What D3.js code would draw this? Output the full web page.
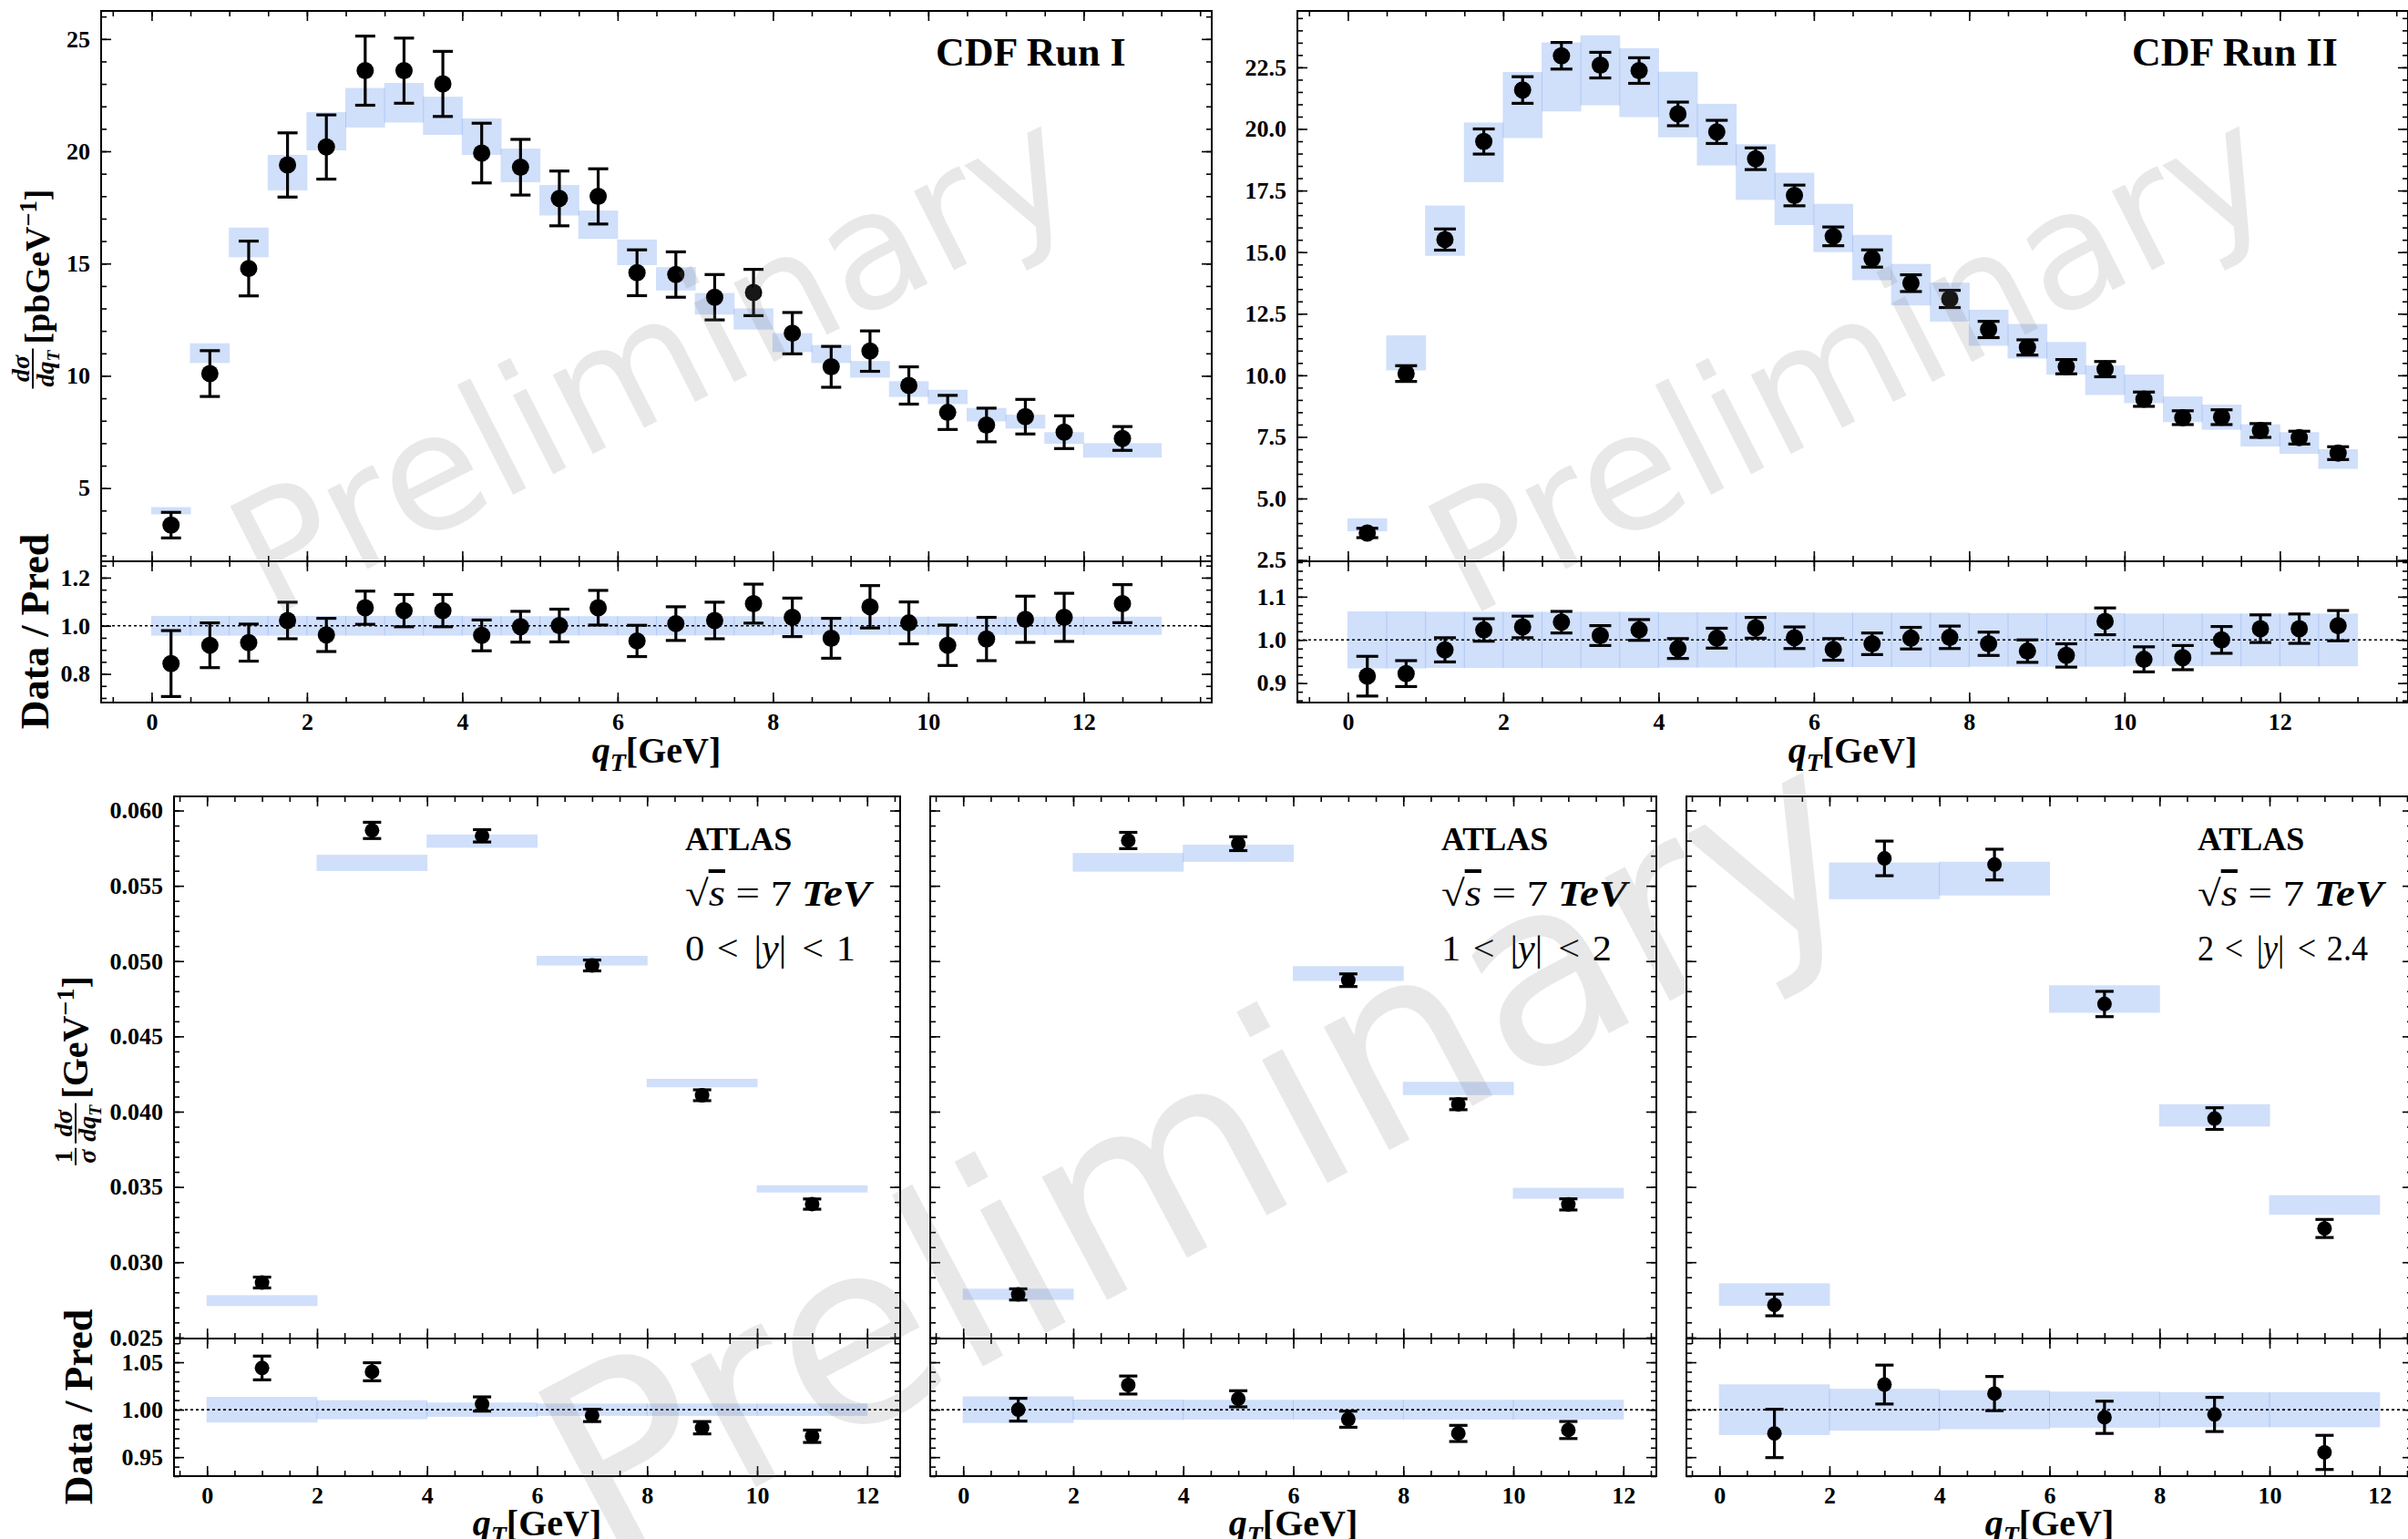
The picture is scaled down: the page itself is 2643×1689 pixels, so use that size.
<!DOCTYPE html>
<html>
<head>
<meta charset="utf-8">
<script src="https://cdn.jsdelivr.net/npm/d3@7"></script>
<style>
  body { margin: 0; background: #fff; }
  svg { display: block; }
</style>
</head>
<body>
<div id="wrapper"></div>
<script>
// ---------- data ----------
// CDF Run I
const cdf1Edges = [0, 0.5, 1, 1.5, 2, 2.5, 3, 3.5, 4, 4.5, 5, 5.5, 6, 6.5, 7, 7.5, 8, 8.5, 9, 9.5, 10, 10.5, 11, 11.5, 12, 13];
const cdf1Data = [3.35, 10.10, 14.78, 19.39, 20.19, 23.59, 23.59, 23.00, 19.92, 19.29, 17.90, 17.99, 14.59, 14.51, 13.50, 13.71, 11.90, 10.40, 11.10, 9.57, 8.37, 7.81, 8.18, 7.49, 7.21];
const cdf1Err = [0.57, 1.02, 1.22, 1.43, 1.43, 1.54, 1.45, 1.45, 1.33, 1.24, 1.22, 1.23, 1.02, 1.01, 1.01, 1.03, 0.92, 0.91, 0.90, 0.83, 0.76, 0.75, 0.77, 0.73, 0.53];
const cdf1Pred = [3.99, 11.01, 15.94, 19.05, 20.89, 21.94, 22.16, 21.58, 20.65, 19.37, 17.82, 16.73, 15.50, 14.32, 13.21, 12.53, 11.48, 10.97, 10.29, 9.41, 9.06, 8.27, 7.96, 7.23, 6.68];
const cdf1PredErr = [0.16, 0.44, 0.66, 0.79, 0.85, 0.88, 0.88, 0.85, 0.81, 0.75, 0.68, 0.63, 0.57, 0.52, 0.48, 0.47, 0.42, 0.40, 0.37, 0.35, 0.32, 0.30, 0.31, 0.26, 0.32];
const cdf1Ratio = [0.843, 0.919, 0.930, 1.022, 0.962, 1.075, 1.063, 1.063, 0.960, 0.996, 1.001, 1.075, 0.937, 1.009, 1.022, 1.092, 1.035, 0.948, 1.079, 1.012, 0.919, 0.945, 1.027, 1.035, 1.092];
const cdf1RatioErr = [0.137, 0.093, 0.077, 0.076, 0.069, 0.069, 0.067, 0.067, 0.064, 0.064, 0.068, 0.072, 0.065, 0.070, 0.076, 0.081, 0.080, 0.083, 0.088, 0.087, 0.084, 0.090, 0.096, 0.100, 0.079];
const cdf1RatioBand = [0.041, 0.041, 0.041, 0.041, 0.041, 0.041, 0.041, 0.041, 0.040, 0.040, 0.040, 0.040, 0.040, 0.040, 0.040, 0.040, 0.038, 0.038, 0.038, 0.038, 0.038, 0.038, 0.038, 0.038, 0.038];

// CDF Run II
const cdf2Edges = [0, 0.5, 1, 1.5, 2, 2.5, 3, 3.5, 4, 4.5, 5, 5.5, 6, 6.5, 7, 7.5, 8, 8.5, 9, 9.5, 10, 10.5, 11, 11.5, 12, 12.5, 13];
const cdf2Data = [3.60, 10.07, 15.51, 19.49, 21.58, 22.97, 22.59, 22.37, 20.61, 19.88, 18.79, 17.30, 15.64, 14.74, 13.74, 13.10, 11.86, 11.13, 10.35, 10.25, 9.03, 8.28, 8.30, 7.76, 7.47, 6.84];
const cdf2Err = [0.19, 0.32, 0.43, 0.51, 0.54, 0.54, 0.52, 0.52, 0.48, 0.47, 0.44, 0.42, 0.38, 0.35, 0.34, 0.35, 0.33, 0.31, 0.29, 0.31, 0.29, 0.28, 0.30, 0.28, 0.26, 0.26];
const cdf2Pred = [3.93, 10.91, 15.87, 19.05, 20.97, 22.11, 22.38, 21.88, 20.99, 19.77, 18.25, 17.16, 15.98, 14.78, 13.68, 12.97, 11.93, 11.38, 10.69, 9.80, 9.45, 8.62, 8.30, 7.56, 7.25, 6.60];
const cdf2PredErr = [0.26, 0.71, 1.02, 1.21, 1.34, 1.40, 1.42, 1.40, 1.33, 1.25, 1.13, 1.06, 0.98, 0.92, 0.84, 0.79, 0.73, 0.70, 0.66, 0.60, 0.58, 0.52, 0.51, 0.45, 0.44, 0.40];
const cdf2Ratio = [0.916, 0.922, 0.977, 1.023, 1.030, 1.041, 1.010, 1.023, 0.980, 1.004, 1.028, 1.005, 0.978, 0.991, 1.004, 1.006, 0.991, 0.974, 0.964, 1.043, 0.955, 0.959, 1.000, 1.026, 1.026, 1.033];
const cdf2RatioErr = [0.046, 0.030, 0.028, 0.026, 0.025, 0.025, 0.023, 0.024, 0.023, 0.023, 0.024, 0.025, 0.025, 0.025, 0.025, 0.026, 0.027, 0.026, 0.027, 0.031, 0.029, 0.028, 0.031, 0.032, 0.034, 0.035];
const cdf2RatioBand = [0.066, 0.066, 0.065, 0.065, 0.065, 0.065, 0.065, 0.065, 0.064, 0.064, 0.064, 0.064, 0.063, 0.063, 0.063, 0.063, 0.062, 0.062, 0.062, 0.062, 0.061, 0.061, 0.061, 0.061, 0.061, 0.061];

// ATLAS 7 TeV, three rapidity slices
const atlasEdges = [0, 2, 4, 6, 8, 10, 12];
const atlasRapidity = [["0", "1"], ["1", "2"], ["2", "2.4"]];
const atlas1Data = [0.02865, 0.05868, 0.05832, 0.04971, 0.04109, 0.03386];
const atlas1Err = [0.00036, 0.00054, 0.00041, 0.00036, 0.00036, 0.00034];
const atlas1Pred = [0.02745, 0.05652, 0.05797, 0.05003, 0.04190, 0.03487];
const atlas1PredErr = [0.00036, 0.00054, 0.00044, 0.00032, 0.00028, 0.00024];
const atlas1Ratio = [1.044, 1.040, 1.006, 0.994, 0.981, 0.972];
const atlas1RatioErr = [0.0125, 0.0095, 0.0075, 0.0065, 0.0065, 0.0065];
const atlas1RatioBand = [0.0135, 0.0100, 0.0075, 0.0065, 0.0065, 0.0065];

const atlas2Data = [0.02786, 0.05801, 0.05780, 0.04873, 0.04049, 0.03384];
const atlas2Err = [0.00037, 0.00054, 0.00046, 0.00042, 0.00036, 0.00037];
const atlas2Pred = [0.02787, 0.05656, 0.05716, 0.04917, 0.04154, 0.03458];
const atlas2PredErr = [0.00037, 0.00062, 0.00057, 0.00049, 0.00044, 0.00036];
const atlas2Ratio = [1.000, 1.026, 1.0115, 0.990, 0.975, 0.9786];
const atlas2RatioErr = [0.012, 0.0095, 0.0085, 0.0085, 0.0085, 0.009];
const atlas2RatioBand = [0.014, 0.0107, 0.0104, 0.0104, 0.0104, 0.0104];

const atlas3Data = [0.02716, 0.05682, 0.05641, 0.04715, 0.03954, 0.03224];
const atlas3Err = [0.00072, 0.00115, 0.00102, 0.00084, 0.00072, 0.00060];
const atlas3Pred = [0.02785, 0.05533, 0.05548, 0.04748, 0.03975, 0.03380];
const atlas3PredErr = [0.00075, 0.00122, 0.00112, 0.00091, 0.00074, 0.00065];
const atlas3Ratio = [0.975, 1.0265, 1.017, 0.992, 0.995, 0.955];
const atlas3RatioErr = [0.0255, 0.0205, 0.018, 0.017, 0.018, 0.018];
const atlas3RatioBand = [0.0267, 0.022, 0.0205, 0.019, 0.0185, 0.0185];

// tick labels
const cdfQtTicks = [0, 2, 4, 6, 8, 10, 12];
const atlasQtTicks = [0, 2, 4, 6, 8, 10, 12];
const cdf1MainTicks = [5, 10, 15, 20, 25];
const cdf1RatioTicks = [0.8, 1.0, 1.2];
const cdf2MainTicks = [2.5, 5.0, 7.5, 10.0, 12.5, 15.0, 17.5, 20.0, 22.5];
const cdf2RatioTicks = [0.9, 1.0, 1.1];
const atlasMainTicks = [0.025, 0.030, 0.035, 0.040, 0.045, 0.050, 0.055, 0.060];
const atlasRatioTicks = [0.95, 1.00, 1.05];

// ---------- layout ----------
const W = 2643, H = 1689;
const SERIF = "'Liberation Serif', 'DejaVu Serif', serif";
const BAND = "cornflowerblue";
const MAJOR = 11, MINOR = 6;

const svg = d3.select("#wrapper").append("svg")
    .attr("width", W)
    .attr("height", H)
    .style("background", "#fff");

function panel(box, xDomain, yDomain) {
    const g = svg.append("g").attr("transform", `translate(${box.left}, ${box.top})`);
    const w = box.right - box.left;
    const h = box.bottom - box.top;
    const x = d3.scaleLinear().domain(xDomain).range([0, w]);
    const y = d3.scaleLinear().domain(yDomain).range([h, 0]);
    return { g, x, y, w, h };
}

function inside(vals, sc) {
    const [a, b] = sc.domain();
    return vals.filter(v => v >= Math.min(a, b) - 1e-9 && v <= Math.max(a, b) + 1e-9);
}

function frame(p, xMajor, xMinor, yMajor, yMinor, xFmt, yFmt) {
    const none = () => "";
    const side = (axis, tr) => p.g.append("g").attr("transform", tr).call(axis)
        .call(a => a.select(".domain").remove())
        .call(a => a.selectAll(".tick line").attr("stroke", "#000").attr("stroke-width", 1.6))
        .call(a => a.selectAll(".tick text").attr("fill", "#000").attr("font-family", SERIF)
            .attr("font-weight", "bold").attr("font-size", 26));
    const xMin = inside(xMinor, p.x), yMin = inside(yMinor, p.y);
    side(d3.axisBottom(p.x).tickValues(xMajor).tickSize(-MAJOR).tickPadding(12).tickFormat(xFmt || none), `translate(0, ${p.h})`);
    side(d3.axisBottom(p.x).tickValues(xMin).tickSize(-MINOR).tickFormat(none), `translate(0, ${p.h})`);
    side(d3.axisTop(p.x).tickValues(xMajor).tickSize(-MAJOR).tickFormat(none), "translate(0, 0)");
    side(d3.axisTop(p.x).tickValues(xMin).tickSize(-MINOR).tickFormat(none), "translate(0, 0)");
    side(d3.axisLeft(p.y).tickValues(yMajor).tickSize(-MAJOR).tickPadding(12).tickFormat(yFmt || none), "translate(0, 0)");
    side(d3.axisLeft(p.y).tickValues(yMin).tickSize(-MINOR).tickFormat(none), "translate(0, 0)");
    side(d3.axisRight(p.y).tickValues(yMajor).tickSize(-MAJOR).tickFormat(none), `translate(${p.w}, 0)`);
    side(d3.axisRight(p.y).tickValues(yMin).tickSize(-MINOR).tickFormat(none), `translate(${p.w}, 0)`);
    p.g.append("rect")
        .attr("width", p.w).attr("height", p.h)
        .attr("fill", "none").attr("stroke", "#000").attr("stroke-width", 2);
}

// bands (prediction) + data points with error bars
function series(p, edges, vals, errs, centre, half, r, cap, unitLine) {
    const rows = vals.map((v, i) => ({
        lo: edges[i], hi: edges[i + 1], v: v, e: errs[i], c: centre[i], h: half[i]
    }));
    p.g.append("g").selectAll("rect").data(rows).join("rect")
        .attr("x", d => p.x(d.lo) - 0.5)
        .attr("width", d => p.x(d.hi) - p.x(d.lo) + 1)
        .attr("y", d => p.y(d.c + d.h))
        .attr("height", d => p.y(d.c - d.h) - p.y(d.c + d.h))
        .attr("fill", BAND)
        .attr("fill-opacity", 0.3);

    if (unitLine) {
        p.g.append("line")
            .attr("x1", 0).attr("x2", p.w)
            .attr("y1", p.y(1)).attr("y2", p.y(1))
            .attr("stroke", "#000").attr("stroke-width", 1.6)
            .attr("stroke-dasharray", "3,3");
    }

    const mid = d => p.x((d.lo + d.hi) / 2);
    const eb = p.g.append("g").attr("stroke", "#000").attr("stroke-width", 3.2);
    eb.selectAll(".stem").data(rows).join("line").attr("class", "stem")
        .attr("x1", mid).attr("x2", mid)
        .attr("y1", d => p.y(d.v - d.e)).attr("y2", d => p.y(d.v + d.e));
    eb.selectAll(".capHi").data(rows).join("line").attr("class", "capHi")
        .attr("x1", d => mid(d) - cap).attr("x2", d => mid(d) + cap)
        .attr("y1", d => p.y(d.v + d.e)).attr("y2", d => p.y(d.v + d.e));
    eb.selectAll(".capLo").data(rows).join("line").attr("class", "capLo")
        .attr("x1", d => mid(d) - cap).attr("x2", d => mid(d) + cap)
        .attr("y1", d => p.y(d.v - d.e)).attr("y2", d => p.y(d.v - d.e));
    p.g.append("g").selectAll("circle").data(rows).join("circle")
        .attr("cx", mid).attr("cy", d => p.y(d.v)).attr("r", r)
        .attr("fill", "#000");
}

function rich(t, parts, size) {
    let shift = 0;
    parts.forEach(q => {
        const off = q.sub ? size * 0.22 : q.sup ? -size * 0.38 : 0;
        const s = t.append("tspan").text(q.t).attr("dy", off - shift);
        if (q.sub || q.sup) s.attr("font-size", size * 0.7);
        if (q.it) s.attr("font-style", "italic");
        shift = off;
    });
}

// rotated y label made of stacked fractions and a unit
function fracLabel(cx, cy, fracs, unitParts, o) {
    const g = svg.append("g")
        .attr("font-family", SERIF).attr("font-weight", "bold").attr("fill", "#000");
    let cursor = 0;
    fracs.forEach(f => {
        const num = g.append("text").attr("y", o.num).attr("font-size", o.fs).attr("text-anchor", "middle");
        rich(num, f.num, o.fs);
        const den = g.append("text").attr("y", o.den).attr("font-size", o.fs).attr("text-anchor", "middle");
        rich(den, f.den, o.fs);
        const w = Math.max(num.node().getComputedTextLength(), den.node().getComputedTextLength()) + 4;
        num.attr("x", cursor + w / 2);
        den.attr("x", cursor + w / 2);
        g.append("line")
            .attr("x1", cursor).attr("x2", cursor + w)
            .attr("y1", o.bar).attr("y2", o.bar)
            .attr("stroke", "#000").attr("stroke-width", 2);
        cursor += w + 5;
    });
    const unit = g.append("text").attr("x", cursor).attr("y", o.base).attr("font-size", o.us);
    rich(unit, unitParts, o.us);
    const total = cursor + unit.node().getComputedTextLength();
    g.attr("transform", `translate(${cx}, ${cy + total / 2}) rotate(-90)`);
}

function ratioLabel(cx, cy) {
    svg.append("text")
        .attr("transform", `translate(${cx}, ${cy}) rotate(-90)`)
        .attr("text-anchor", "middle")
        .attr("font-family", SERIF).attr("font-weight", "bold").attr("font-size", 44)
        .attr("fill", "#000")
        .text("Data / Pred");
}

function qtLabel(cx, y) {
    const t = svg.append("text")
        .attr("x", cx).attr("y", y)
        .attr("text-anchor", "middle")
        .attr("font-family", SERIF).attr("font-weight", "bold").attr("font-size", 40)
        .attr("fill", "#000");
    rich(t, [{ t: "q", it: 1 }, { t: "T", it: 1, sub: 1 }, { t: "[GeV]" }], 40);
}

const qtFmt = d3.format("d");

// ---------- CDF Run I ----------
const cdfX = [-0.65, 13.65];
const cdfXMinor = d3.range(-0.5, 14, 0.5);
{
    const main = panel({ left: 111, right: 1330, top: 12, bottom: 616 }, cdfX, [1.74, 26.25]);
    series(main, cdf1Edges, cdf1Data, cdf1Err, cdf1Pred, cdf1PredErr, 9.5, 11, false);
    frame(main, cdfQtTicks, cdfXMinor, cdf1MainTicks, d3.range(2, 27, 1), null, d3.format("d"));

    const ratio = panel({ left: 111, right: 1330, top: 616, bottom: 771 }, cdfX, [0.681, 1.268]);
    series(ratio, cdf1Edges, cdf1Ratio, cdf1RatioErr, cdf1Ratio.map(() => 1), cdf1RatioBand, 9.5, 11, true);
    frame(ratio, cdfQtTicks, cdfXMinor, cdf1RatioTicks, d3.range(0.7, 1.27, 0.05), qtFmt, d3.format(".1f"));

    svg.append("text").attr("x", 111 + 916).attr("y", 72)
        .attr("font-family", SERIF).attr("font-weight", "bold").attr("font-size", 44)
        .text("CDF Run I");
    fracLabel(44, 317,
        [{ num: [{ t: "dσ", it: 1 }], den: [{ t: "dq", it: 1 }, { t: "T", it: 1, sub: 1 }] }],
        [{ t: "[pbGeV" }, { t: "−1", sup: 1 }, { t: "]" }],
        { fs: 28, us: 38, num: -12, den: 15, bar: -8, base: 10 });
    ratioLabel(53, 693);
    qtLabel((111 + 1330) / 2, 837);
}

// ---------- CDF Run II ----------
{
    const main = panel({ left: 1424, right: 2643, top: 12, bottom: 616 }, cdfX, [2.45, 24.79]);
    series(main, cdf2Edges, cdf2Data, cdf2Err, cdf2Pred, cdf2PredErr, 9.5, 12, false);
    frame(main, cdfQtTicks, cdfXMinor, cdf2MainTicks, d3.range(2.5, 25, 0.5), null, d3.format(".1f"));

    const ratio = panel({ left: 1424, right: 2643, top: 616, bottom: 771 }, cdfX, [0.855, 1.182]);
    series(ratio, cdf2Edges, cdf2Ratio, cdf2RatioErr, cdf2Ratio.map(() => 1), cdf2RatioBand, 9.5, 12, true);
    frame(ratio, cdfQtTicks, cdfXMinor, cdf2RatioTicks, d3.range(0.86, 1.19, 0.02), qtFmt, d3.format(".1f"));

    svg.append("text").attr("x", 1424 + 916).attr("y", 72)
        .attr("font-family", SERIF).attr("font-weight", "bold").attr("font-size", 44)
        .text("CDF Run II");
    qtLabel((1424 + 2643) / 2, 837);
}

// ---------- ATLAS ----------
const atlasX = [-0.6, 12.6];
const atlasXMinor = d3.range(-0.5, 13, 0.5);
const atlasMainY = [0.02493, 0.06094];
const atlasRatioY = [0.930, 1.075];
const atlasSets = [
    [atlas1Data, atlas1Err, atlas1Pred, atlas1PredErr, atlas1Ratio, atlas1RatioErr, atlas1RatioBand],
    [atlas2Data, atlas2Err, atlas2Pred, atlas2PredErr, atlas2Ratio, atlas2RatioErr, atlas2RatioBand],
    [atlas3Data, atlas3Err, atlas3Pred, atlas3PredErr, atlas3Ratio, atlas3RatioErr, atlas3RatioBand]
];
const atlasLefts = [191, 1021, 1851];

atlasSets.forEach((s, k) => {
    const left = atlasLefts[k], right = left + 797;
    const first = k === 0;
    const main = panel({ left: left, right: right, top: 874, bottom: 1469 }, atlasX, atlasMainY);
    series(main, atlasEdges, s[0], s[1], s[2], s[3], 8, 10, false);
    frame(main, atlasQtTicks, atlasXMinor, atlasMainTicks, d3.range(0.025, 0.061, 0.001),
        null, first ? d3.format(".3f") : null);

    const ratio = panel({ left: left, right: right, top: 1469, bottom: 1620 }, atlasX, atlasRatioY);
    series(ratio, atlasEdges, s[4], s[5], s[4].map(() => 1), s[6], 8, 10, true);
    frame(ratio, atlasQtTicks, atlasXMinor, atlasRatioTicks, d3.range(0.93, 1.076, 0.01),
        qtFmt, first ? d3.format(".2f") : null);

    const tx = left + 561;
    svg.append("text").attr("x", tx).attr("y", 933)
        .attr("font-family", SERIF).attr("font-weight", "bold").attr("font-size", 36)
        .text("ATLAS");
    const rs = svg.append("text").attr("x", tx).attr("y", 994)
        .attr("font-family", SERIF).attr("font-size", 40)
        .attr("textLength", 204).attr("lengthAdjust", "spacingAndGlyphs");
    rs.append("tspan").text("√");
    rs.append("tspan").text("s").attr("font-style", "italic").style("text-decoration", "overline");
    rs.append("tspan").text("=").attr("dx", 10);
    rs.append("tspan").text("7").attr("dx", 10);
    rs.append("tspan").text("TeV").attr("font-style", "italic").attr("font-weight", "bold").attr("dx", 9);
    const yr = svg.append("text").attr("x", tx).attr("y", 1054)
        .attr("font-family", SERIF).attr("font-size", 40)
        .attr("textLength", 187).attr("lengthAdjust", "spacingAndGlyphs");
    yr.append("tspan").text(atlasRapidity[k][0]);
    yr.append("tspan").text("<").attr("dx", 13);
    yr.append("tspan").text("|").attr("dx", 16);
    yr.append("tspan").text("y").attr("font-style", "italic");
    yr.append("tspan").text("|");
    yr.append("tspan").text("<").attr("dx", 16);
    yr.append("tspan").text(atlasRapidity[k][1]).attr("dx", 13);

    qtLabel((left + right) / 2, 1685);
});

fracLabel(90, 1175,
    [{ num: [{ t: "1" }], den: [{ t: "σ", it: 1 }] },
     { num: [{ t: "dσ", it: 1 }], den: [{ t: "dq", it: 1 }, { t: "T", it: 1, sub: 1 }] }],
    [{ t: "[GeV" }, { t: "−1", sup: 1 }, { t: "]" }],
    { fs: 28, us: 40, num: -11, den: 15, bar: -7, base: 6 });
ratioLabel(101, 1544);

// ---------- watermarks ----------
const stamps = [
    { x: 716, y: 396, size: 178, rot: -27 },
    { x: 2031, y: 396, size: 178, rot: -27 },
    { x: 1315, y: 1264, size: 280, rot: -28 }
];
svg.append("g").selectAll("text").data(stamps).join("text")
    .attr("transform", d => `translate(${d.x}, ${d.y}) rotate(${d.rot})`)
    .attr("text-anchor", "middle")
    .attr("dominant-baseline", "central")
    .attr("font-family", "'DejaVu Sans', sans-serif")
    .attr("font-size", d => d.size)
    .attr("fill", "#808080")
    .attr("fill-opacity", 0.18)
    .style("pointer-events", "none")
    .text("Preliminary");
</script>
</body>
</html>
